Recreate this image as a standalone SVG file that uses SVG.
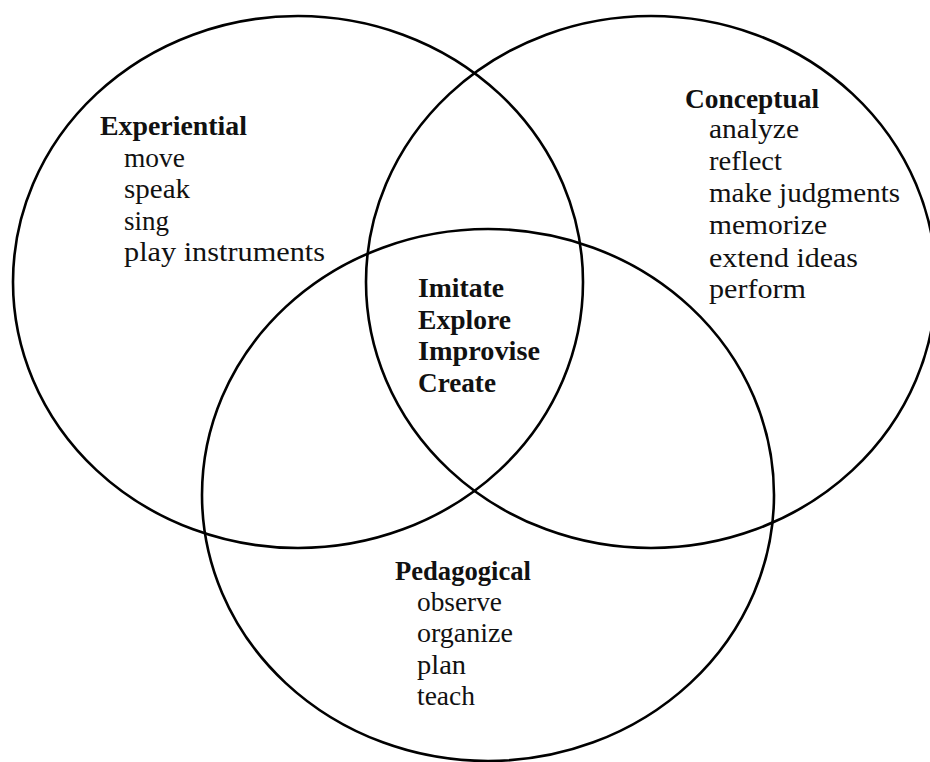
<svg xmlns="http://www.w3.org/2000/svg" width="930" height="762" viewBox="0 0 930 762">
  <style>
    .ring { fill: none; stroke: #000; stroke-width: 2.6; }
    .t { font-family: "Liberation Serif", "Times New Roman", serif; font-size: 27px; fill: #111; }
    .h { font-weight: bold; }
  </style>
  <rect width="930" height="762" fill="#fff"/>

  <!-- three overlapping domains; no connectors are drawn -->
  <g id="connectors"></g>

  <g id="experiential">
    <ellipse class="ring" cx="298" cy="282" rx="285" ry="266"/>
    <text class="t h" x="100" y="135" textLength="147" lengthAdjust="spacingAndGlyphs">Experiential</text>
    <text class="t" x="124" y="166.5" textLength="61" lengthAdjust="spacingAndGlyphs">move</text>
    <text class="t" x="124" y="198" textLength="66" lengthAdjust="spacingAndGlyphs">speak</text>
    <text class="t" x="124" y="229.5" textLength="45" lengthAdjust="spacingAndGlyphs">sing</text>
    <text class="t" x="124" y="261" textLength="201" lengthAdjust="spacingAndGlyphs">play instruments</text>
  </g>

  <g id="conceptual">
    <ellipse class="ring" cx="651" cy="282" rx="285" ry="266"/>
    <text class="t h" x="685" y="108" textLength="134" lengthAdjust="spacingAndGlyphs">Conceptual</text>
    <text class="t" x="709" y="137.5" textLength="90" lengthAdjust="spacingAndGlyphs">analyze</text>
    <text class="t" x="709" y="170" textLength="73" lengthAdjust="spacingAndGlyphs">reflect</text>
    <text class="t" x="709" y="201.5" textLength="191" lengthAdjust="spacingAndGlyphs">make judgments</text>
    <text class="t" x="709" y="234" textLength="118" lengthAdjust="spacingAndGlyphs">memorize</text>
    <text class="t" x="709" y="266.5" textLength="149" lengthAdjust="spacingAndGlyphs">extend ideas</text>
    <text class="t" x="709" y="298" textLength="97" lengthAdjust="spacingAndGlyphs">perform</text>
  </g>

  <g id="pedagogical">
    <ellipse class="ring" cx="488" cy="495" rx="286" ry="266"/>
    <text class="t h" x="395" y="580" textLength="136" lengthAdjust="spacingAndGlyphs">Pedagogical</text>
    <text class="t" x="417" y="611" textLength="85" lengthAdjust="spacingAndGlyphs">observe</text>
    <text class="t" x="417" y="641.5" textLength="96" lengthAdjust="spacingAndGlyphs">organize</text>
    <text class="t" x="417" y="673.5" textLength="49" lengthAdjust="spacingAndGlyphs">plan</text>
    <text class="t" x="417" y="705" textLength="58" lengthAdjust="spacingAndGlyphs">teach</text>
  </g>

  <g id="core">
    <text class="t h" x="418" y="297" textLength="86" lengthAdjust="spacingAndGlyphs">Imitate</text>
    <text class="t h" x="418" y="329" textLength="93" lengthAdjust="spacingAndGlyphs">Explore</text>
    <text class="t h" x="418" y="360" textLength="122" lengthAdjust="spacingAndGlyphs">Improvise</text>
    <text class="t h" x="418" y="391.5" textLength="78" lengthAdjust="spacingAndGlyphs">Create</text>
  </g>
</svg>
